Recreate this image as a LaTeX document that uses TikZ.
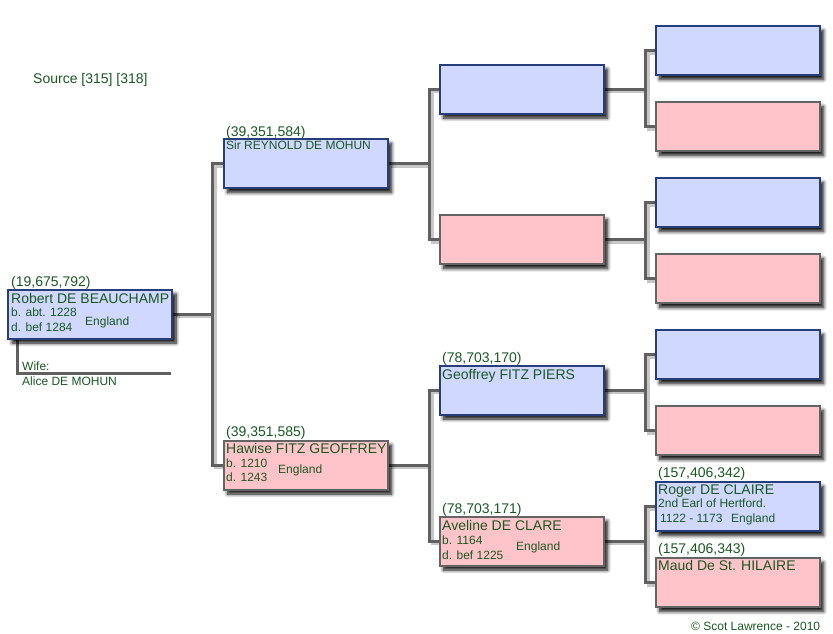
\documentclass[tikz,border=0pt]{standalone}
\usepackage{fontspec}
\setmainfont{Liberation Sans}
\usetikzlibrary{shadows.blur}
\definecolor{tgreen}{RGB}{26,88,34}
\definecolor{mfill}{RGB}{208,216,255}
\definecolor{mline}{RGB}{40,62,122}
\definecolor{ffill}{RGB}{255,196,202}
\definecolor{fline}{RGB}{100,100,100}
\definecolor{cgray}{RGB}{96,96,96}
\pgfdeclarelayer{bg}
\pgfsetlayers{bg,main}
% all connector paths of the tree, drawn once as shadow and once as line
\newcommand\treelinks{%
  \draw[conn] (rey.west) -- ++(-10,0) coordinate (j1) |- (haw.west);
  \draw[conn] (rob.east) -- (rob.east -| j1);
  \draw[conn] (g3a.west) -- ++(-9,0) coordinate (j2) |- (g3b.west);
  \draw[conn] (rey.east) -- (rey.east -| j2);
  \draw[conn] (geo.west) -- ++(-9,0) coordinate (j3) |- (ave.west);
  \draw[conn] (haw.east) -- (haw.east -| j3);
  \draw[conn] (g4a.west) -- ++(-9,0) coordinate (j4) |- (g4b.west);
  \draw[conn] (g3a.east) -- (g3a.east -| j4);
  \draw[conn] (g4c.west) -- ++(-9,0) coordinate (j5) |- (g4d.west);
  \draw[conn] (g3b.east) -- (g3b.east -| j5);
  \draw[conn] (g4e.west) -- ++(-9,0) coordinate (j6) |- (g4f.west);
  \draw[conn] (geo.east) -- (geo.east -| j6);
  \draw[conn] (rog.west) -- ++(-9,0) coordinate (j7) |- (mau.west);
  \draw[conn] (ave.east) -- (ave.east -| j7);
}
\begin{document}
\begin{tikzpicture}[x=1pt,y=-1pt,
  pbox/.style={rectangle, line width=2pt, minimum width=164pt, minimum height=49pt, inner sep=0pt,
    blur shadow={shadow xshift=4pt, shadow yshift=-4.5pt, shadow blur radius=3.5pt,
      shadow blur steps=8, shadow opacity=95}},
  male/.style={pbox, draw=mline, fill=mfill},
  female/.style={pbox, draw=fline, fill=ffill},
  conn/.style={draw=cgray, line width=3pt},
  connshadow/.style={conn/.style={draw=black!22, line width=3pt}},
  wline/.style={draw=cgray, line width=3pt},
  txt/.style={anchor=base west, inner sep=0pt, text=tgreen},
  big/.style={txt, font=\fontsize{14}{16}\selectfont},
  num/.style={txt, font=\fontsize{14}{16}\selectfont},
  small/.style={txt, font=\fontsize{12}{14}\selectfont}]
\path[use as bounding box] (0,0) rectangle (833,633);

% generation 1
\node[male] (rob) at (90,314) {};
% generation 2
\node[male] (rey) at (305.5,163.5) {};
\node[female] (haw) at (305.5,465) {};
% generation 3
\node[male] (g3a) at (521.5,89) {};
\node[female] (g3b) at (521.5,239.5) {};
\node[male] (geo) at (521.5,390) {};
\node[female] (ave) at (521.5,541) {};
% generation 4
\node[male] (g4a) at (737.5,50.5) {};
\node[female] (g4b) at (737.5,126.5) {};
\node[male] (g4c) at (737.5,202.5) {};
\node[female] (g4d) at (737.5,278.5) {};
\node[male] (g4e) at (737.5,354.5) {};
\node[female] (g4f) at (737.5,430.5) {};
\node[male] (rog) at (737.5,506.5) {};
\node[female] (mau) at (737.5,582.5) {};

% connectors, under the boxes
\begin{pgfonlayer}{bg}
\begin{scope}[connshadow, transform canvas={xshift=2.5pt,yshift=-2.5pt}]
  \treelinks
\end{scope}
\treelinks
\coordinate (wend) at (170.5,373);
\draw[wline] ([xshift=10.3pt]rob.south west) |- (wend);
\end{pgfonlayer}

% header and footer
\node[big] (src) at (33,83) {Source [315] [318]};
\node[small] (copy) at (691,630.5) {© Scot Lawrence - 2010};

% Robert
\node[num] (robn) at (11,286.5) {(19,675,792)};
\node[big] (robt) at (11,303) {Robert DE BEAUCHAMP};
\node[small] (robb) at (11,316.5) {b. abt. 1228};
\node[small] (robd) at (11,331.5) {d. bef 1284};
\node[small] (robp) at (85,325) {England};
\node[small] (wife) at (22,370.5) {Wife:};
\node[small] (alice) at (22,385) {Alice DE MOHUN};

% Reynold
\node[num] (reyn) at (226,136) {(39,351,584)};
\node[small] (reyt) at (226,149.5) {Sir REYNOLD DE MOHUN};

% Hawise
\node[num] (hawn) at (226,436) {(39,351,585)};
\node[big] (hawt) at (226,453) {Hawise FITZ GEOFFREY};
\node[small] (hawb) at (226,467) {b. 1210};
\node[small] (hawd) at (226,481.5) {d. 1243};
\node[small] (hawp) at (278,473) {England};

% Geoffrey
\node[num] (geon) at (442,362) {(78,703,170)};
\node[big] (geot) at (442,379) {Geoffrey FITZ PIERS};

% Aveline
\node[num] (aven) at (442,513) {(78,703,171)};
\node[big] (avet) at (442,530) {Aveline DE CLARE};
\node[small] (aveb) at (442,544.5) {b. 1164};
\node[small] (aved) at (442,559) {d. bef 1225};
\node[small] (avep) at (516,550) {England};

% Roger
\node[num] (rogn) at (658,477) {(157,406,342)};
\node[big] (rogt) at (658,494) {Roger DE CLAIRE};
\node[small] (rogs) at (658,507.5) {2nd Earl of Hertford.};
\node[small] (rogy) at (660,522.5) {1122 - 1173};
\node[small] (rogp) at (731,522.5) {England};

% Maud
\node[num] (maun) at (658,553.5) {(157,406,343)};
\node[big] (maut) at (658,570) {Maud De St. HILAIRE};
\end{tikzpicture}
\end{document}
